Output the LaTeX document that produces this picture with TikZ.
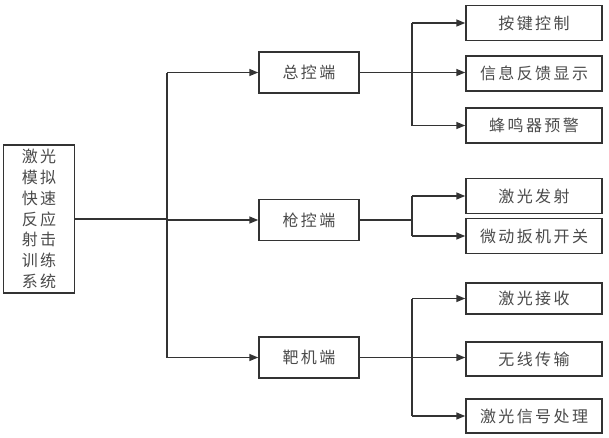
\documentclass[tikz,border=0pt]{standalone}
\usepackage{fontspec}
\setmainfont{Noto Sans CJK SC}[LetterSpace=15]
\usetikzlibrary{arrows.meta}
\definecolor{txt}{HTML}{4A4A4A}
\definecolor{ln}{HTML}{333333}
\tikzset{
  box/.style={draw=ln, line width=1.5pt, minimum width=100pt, minimum height=41pt, inner sep=0pt,
    text=txt, font=\fontsize{16}{20.8}\selectfont},
  leaf/.style={box, minimum width=136pt, minimum height=35pt},
  conn/.style={draw=ln, line width=1.5pt},
  arr/.style={conn, -{Triangle[length=9pt,width=7pt]}},
}
\begin{document}
\begin{tikzpicture}[x=1pt,y=-1pt]
\useasboundingbox (0,0) rectangle (609,437);
\node[box, minimum width=71pt, minimum height=148pt, align=center] (sys) at (39,219)
  {激光\\模拟\\快速\\反应\\射击\\训练\\系统};
\node[box] (zk) at (309,72.5) {总控端};
\node[box] (qk) at (309,220) {枪控端};
\node[box] (bj) at (309,357.5) {靶机端};
\node[leaf] (a1) at (534,23) {按键控制};
\node[leaf] (a2) at (534,73.5) {信息反馈显示};
\node[leaf] (a3) at (534,125.5) {蜂鸣器预警};
\node[leaf] (b1) at (534,196) {激光发射};
\node[leaf] (b2) at (534,236) {微动扳机开关};
\node[leaf, minimum height=31pt] (c1) at (534,298.5) {激光接收};
\node[leaf, minimum height=34pt] (c2) at (534,359) {无线传输};
\node[leaf, minimum height=34pt] (c3) at (534,416) {激光信号处理};
% trunk
\coordinate (j0) at (167,219);
\coordinate (jt) at (167,72.5);
\coordinate (jb) at (167,357.5);
\draw[conn] (sys.east |- j0) -- (j0);
\draw[conn] (jt) -- (jb);
\draw[arr] (jt) -- (zk.west);
\draw[arr] (jt |- qk) -- (qk.west);
\draw[arr] (jb) -- (bj.west);
% group A
\coordinate (ja) at (412,72.5);
\draw[conn] (zk.east) -- (ja);
\draw[conn] (ja |- a1) -- (ja |- a3);
\draw[arr] (ja |- a1) -- (a1.west);
\draw[arr] (ja) -- (ja -| a2.west);
\draw[arr] (ja |- a3) -- (a3.west);
% group B
\coordinate (jb2) at (412,220);
\draw[conn] (qk.east) -- (jb2);
\draw[conn] (jb2 |- b1) -- (jb2 |- b2);
\draw[arr] (jb2 |- b1) -- (b1.west);
\draw[arr] (jb2 |- b2) -- (b2.west);
% group C
\coordinate (jc) at (412,357.5);
\draw[conn] (bj.east) -- (jc);
\draw[conn] (jc |- c1) -- (jc |- c3);
\draw[arr] (jc |- c1) -- (c1.west);
\draw[arr] (jc) -- (jc -| c2.west);
\draw[arr] (jc |- c3) -- (c3.west);
\end{tikzpicture}
\end{document}
